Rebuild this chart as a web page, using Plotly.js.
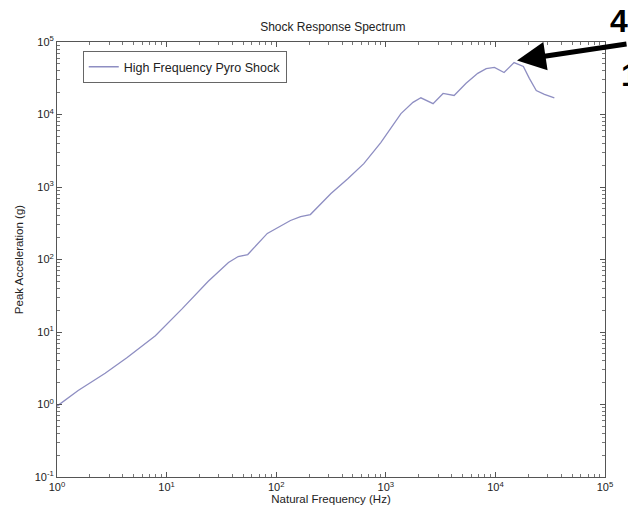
<!DOCTYPE html>
<html>
<head>
<meta charset="utf-8">
<script src="https://cdn.plot.ly/plotly-3.0.1.min.js"></script>
<style>html,body{margin:0;padding:0;background:#fff;overflow:hidden;}#chart{width:628px;height:518px;}</style>
</head>
<body>
<div id="chart"></div>
<script>
const seriesName = "High Frequency Pyro Shock";
const freqHz = [1, 1.56, 2.75, 4.37, 7.9, 13.9, 24, 36.7, 45, 55, 83, 135, 167, 205, 316, 450, 630, 900, 1375, 1770, 2090, 2700, 3330, 4200, 5400, 6900, 8240, 9800, 12000, 14800, 18000, 20400, 23600, 28000, 34500];
const peakAccelG = [0.95, 1.56, 2.7, 4.45, 8.9, 21, 50, 91, 110, 117, 229, 345, 390, 417, 813, 1300, 2100, 4100, 10300, 14700, 17000, 14100, 19500, 18300, 26900, 37000, 43000, 44700, 38000, 52000, 46000, 31500, 21400, 19000, 17000];
const xTickVals = [1, 10, 100, 1000, 10000, 100000];
const xTickText = ["10<sup>0</sup>", "10<sup>1</sup>", "10<sup>2</sup>", "10<sup>3</sup>", "10<sup>4</sup>", "10<sup>5</sup>"];
const yTickVals = [0.1, 1, 10, 100, 1000, 10000, 100000];
const yTickText = ["10<sup>-1</sup>", "10<sup>0</sup>", "10<sup>1</sup>", "10<sup>2</sup>", "10<sup>3</sup>", "10<sup>4</sup>", "10<sup>5</sup>"];
const titleText = "Shock Response Spectrum";
const xTitle = "Natural Frequency (Hz)";
const yTitle = "Peak Acceleration (g)";

const axisCommon = {
  type: 'log',
  tickmode: 'array',
  showgrid: false,
  zeroline: false,
  showline: true,
  linecolor: '#555',
  linewidth: 1,
  mirror: 'ticks',
  ticks: 'inside',
  ticklen: 5,
  tickcolor: '#555',
  tickfont: {family: 'Arial, Liberation Sans, sans-serif', size: 11, color: '#222'},
  minor: {ticks: 'inside', ticklen: 3, tickcolor: '#777', dtick: 'D1', showgrid: false}
};

const data = [{
  x: freqHz,
  y: peakAccelG,
  type: 'scatter',
  mode: 'lines',
  name: seriesName,
  line: {color: '#8e8ec2', width: 1.3}
}];

const layout = {
  width: 628, height: 518,
  margin: {l: 57, r: 23, t: 42, b: 41},
  paper_bgcolor: '#fff', plot_bgcolor: '#fff',
  font: {family: 'Arial, Liberation Sans, sans-serif', color: '#222'},
  title: {text: titleText, font: {size: 12, color: '#222'}, x: 0.53, xanchor: 'center', y: 0.948, yanchor: 'middle'},
  xaxis: Object.assign({}, axisCommon, {range: [0, 5], tickvals: xTickVals, ticktext: xTickText, title: {text: xTitle, font: {size: 11.5}, standoff: 2}}),
  yaxis: Object.assign({}, axisCommon, {range: [-1, 5], tickvals: yTickVals, ticktext: yTickText, title: {text: yTitle, font: {size: 11.5}, standoff: 8}}),
  showlegend: true,
  legend: {x: 0.047, y: 0.979, xanchor: 'left', yanchor: 'top', bgcolor: '#fff', bordercolor: '#666', borderwidth: 1, font: {size: 12.5, color: '#222'}, itemwidth: 30, tracegroupgap: 0},
  annotations: [
    {x: Math.log10(14800), y: Math.log10(55000), xref: 'x', yref: 'y', ax: 115, ay: -17, axref: 'pixel', ayref: 'pixel', showarrow: true, arrowhead: 2, arrowsize: 1.15, arrowwidth: 5, arrowcolor: '#000', text: '', standoff: 3},
    {x: 1.0, y: 1.0, xref: 'paper', yref: 'paper', xshift: 3, yshift: 21, text: '<b>4</b>', showarrow: false, font: {size: 32, color: '#000', family: 'Arial, Liberation Sans, sans-serif'}, xanchor: 'left', yanchor: 'middle'},
    {x: 1.0, y: 1.0, xref: 'paper', yref: 'paper', xshift: 14, yshift: -33, text: '<b>1</b>', showarrow: false, font: {size: 32, color: '#000', family: 'Arial, Liberation Sans, sans-serif'}, xanchor: 'left', yanchor: 'middle'}
  ]
};

Plotly.newPlot('chart', data, layout, {displayModeBar: false, staticPlot: true});
</script>
</body>
</html>
